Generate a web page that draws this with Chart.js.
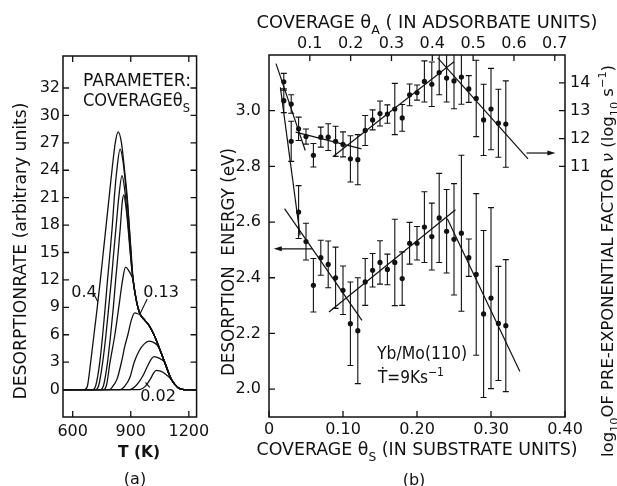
<!DOCTYPE html>
<html>
<head>
<meta charset="utf-8">
<script src="https://cdn.jsdelivr.net/npm/chart.js@4.4.1/dist/chart.umd.min.js"></script>
<style>
  html, body { margin: 0; padding: 0; background: #fff; }
  #wrap { position: relative; width: 617px; height: 486px; }
  #tds { position: absolute; left: 0; top: 0; }
  #energy { position: absolute; left: 215px; top: 0; }
</style>
</head>
<body>
<div id="wrap">
  <canvas id="tds" width="215" height="486"></canvas>
  <canvas id="energy" width="402" height="486"></canvas>
</div>
<script>
const INK = '#111';
const FONT = "'DejaVu Sans', sans-serif";
const TICK = 6;

// --- (a) desorption spectra: [T (K), rate] ---
// all spectra run into the same high temperature tail
const tdsTail = [[912,12],[925,10.2],[938,8.9],[952,8.1],[972,7.6],[995,7.0],[1020,6.0],[1050,4.4],[1075,3.0],[1110,1.1],[1145,0.2],[1175,0],[1240,0]];
const tds040 = [[550,0],[660,0],[675,0.3],[693,3],[710,6],[727,9],[743,12],[758,15],[773,18],[788,21],[803,24],[820,27],[835,28.2],[852,27],[868,24],[882,21],[892,18],[902,15]];
const tds035 = [[550,0],[705,0],[720,0.5],[740,3],[755,6],[768,9],[780,12],[793,15],[805,18],[815,21],[828,24],[845,26.3],[860,25],[873,22.5],[886,19.5],[896,16.5],[904,14]];
const tds030 = [[550,0],[720,0],[735,0.5],[755,3],[772,6],[786,9],[800,12],[812,15],[825,18],[838,21],[855,23.4],[868,22],[880,19.5],[891,17],[901,14.3]];
const tds025 = [[550,0],[745,0],[760,0.5],[780,3],[796,6],[810,9],[822,12],[835,15],[847,18],[856,20.5],[864,21.3],[874,20.2],[885,18],[895,15.5],[904,13.5]];
const tds018 = [[550,0],[760,0],[775,0.5],[793,3],[818,6],[838,9],[858,12],[873,13.4],[890,13],[903,12.5]];
const tds013 = [[550,0],[790,0],[805,0.3],[830,1.2],[852,3],[870,4.8],[885,6],[903,7.6],[920,8.4],[936,8.3],[952,8.1]];
const tds008 = [[550,0],[845,0],[870,0.4],[895,1.3],[918,3],[945,4.3],[970,5.0],[993,5.3],[1015,5.2],[1035,4.9],[1050,4.4]];
const tds004 = [[550,0],[895,0],[930,0.5],[960,1.4],[985,2.5],[1005,3.3],[1020,3.6],[1040,3.5],[1058,3.3],[1075,3.0]];
const tds002 = [[550,0],[945,0],[975,0.35],[1000,1.1],[1018,1.8],[1032,2.1],[1050,2.05],[1070,1.85],[1090,1.5],[1110,1.1]];
const tdsHeads = [tds040, tds035, tds030, tds025, tds018, tds013, tds008, tds004, tds002];

const tempTicks = [600, 900, 1200];
const rateTicks = [0, 3, 6, 9, 12, 15, 18, 21, 24, 27, 30, 33];
const rateLabels = ['0', '3', '6', '9', '12', '15', '18', '21', '24', '27', '30', '32'];

// --- (b) desorption energy and log10 of prefactor vs coverage ---
const thetaS = [0.02,0.03,0.04,0.05,0.06,0.07,0.08,0.09,0.10,0.11,0.12,0.13,0.14,0.15,0.16,0.17,0.18,0.19,0.20,0.21,0.22,0.23,0.24,0.25,0.26,0.27,0.28,0.29,0.30,0.31,0.32];
const energy    = [3.036,2.89,2.636,2.53,2.373,2.472,2.448,2.40,2.355,2.235,2.21,2.385,2.427,2.455,2.43,2.455,2.397,2.524,2.524,2.582,2.548,2.615,2.567,2.538,2.56,2.472,2.412,2.27,2.327,2.236,2.228];
const energyErr = [0.043,0.072,0.095,0.066,0.096,0.063,0.084,0.11,0.087,0.15,0.19,0.084,0.06,0.078,0.055,0.155,0.096,0.075,0.06,0.127,0.12,0.16,0.15,0.2,0.28,0.067,0.29,0.30,0.325,0.205,0.237];
const logNu     = [14.04,13.24,12.35,12.07,11.40,12.05,12.05,11.90,11.79,11.27,11.24,12.29,12.67,12.90,12.88,13.06,12.74,13.57,13.65,14.05,13.95,14.37,14.17,14.07,14.21,13.78,13.44,12.67,13.06,12.55,12.52];
const logNuErr  = [0.30,0.33,0.42,0.27,0.42,0.36,0.48,0.54,0.45,0.83,0.90,0.54,0.36,0.45,0.33,0.92,0.48,0.39,0.27,0.74,0.80,0.80,0.86,1.00,0.98,0.48,1.37,1.28,1.46,1.22,1.55];

// straight-line fits, [theta, value] end points
const fitEnergy = [
  [[0.0154, 3.084], [0.042, 2.552]],
  [[0.021, 2.648], [0.1256, 2.247]],
  [[0.081, 2.277], [0.252, 2.644]],
  [[0.241, 2.612], [0.339, 2.063]]
];
const fitLogNu = [
  [[0.0095, 14.69], [0.049, 11.57]],
  [[0.036, 12.23], [0.125, 11.63]],
  [[0.0875, 11.37], [0.25, 14.76]],
  [[0.228, 14.9], [0.35, 11.27]]
];
const arrowEnergy = [[0.0585, 2.504], [0.0064, 2.504]];
const arrowLogNu = [[0.348, 11.48], [0.387, 11.48]];

const thetaSTicks = [0, 0.1, 0.2, 0.3, 0.4];
const thetaSLabels = ['0', '0.10', '0.20', '0.30', '0.40'];
const thetaATicks = [0.1, 0.2, 0.3, 0.4, 0.5, 0.6, 0.7];
const thetaALabels = ['0.1', '0.2', '0.3', '0.4', '0.5', '0.6', '0.7'];
const energyTicks = [2.0, 2.2, 2.4, 2.6, 2.8, 3.0];
const energyLabels = ['2.0', '2.2', '2.4', '2.6', '2.8', '3.0'];
const logNuTicks = [11, 12, 13, 14];
const logNuLabels = ['11', '12', '13', '14'];

// --- helpers ---
// parts: [text, kind]; kind 'n' normal, 'sub', 'sup', 'i' italic
function drawText(ctx, parts, x, y, o = {}) {
  const size = o.size || 16;
  const font = k => {
    const small = k === 'sub' || k === 'sup';
    return (k === 'i' ? 'italic ' : '') + (o.bold ? 'bold ' : '') +
      Math.round(small ? size * 0.68 : size) + 'px ' + FONT;
  };
  ctx.save();
  ctx.translate(x, y);
  if (o.rotate) ctx.rotate(o.rotate);
  let w = 0;
  parts.forEach(([t, k]) => { ctx.font = font(k); w += ctx.measureText(t).width; });
  if (o.width) ctx.scale(o.width / w, 1);
  let cx = o.align === 'left' ? 0 : -w / 2;
  ctx.fillStyle = INK;
  ctx.textAlign = 'left';
  ctx.textBaseline = 'alphabetic';
  parts.forEach(([t, k]) => {
    ctx.font = font(k);
    const dy = k === 'sub' ? size * 0.32 : k === 'sup' ? -size * 0.42 : 0;
    ctx.fillText(t, cx, size * 0.36 + dy);
    cx += ctx.measureText(t).width;
  });
  ctx.restore();
}

function drawFrame(chart, sides) {
  const { ctx, chartArea: a } = chart;
  ctx.save();
  ctx.strokeStyle = INK;
  ctx.lineWidth = 1.5;
  ctx.strokeRect(a.left, a.top, a.right - a.left, a.bottom - a.top);
  ctx.lineWidth = 1.3;
  ctx.beginPath();
  sides.forEach(({ scale, values, side }) => {
    const s = chart.scales[scale];
    values.forEach(v => {
      const p = s.getPixelForValue(v);
      if (side === 'bottom') { ctx.moveTo(p, a.bottom); ctx.lineTo(p, a.bottom - TICK); }
      if (side === 'top') { ctx.moveTo(p, a.top); ctx.lineTo(p, a.top + TICK); }
      if (side === 'left') { ctx.moveTo(a.left, p); ctx.lineTo(a.left + TICK, p); }
      if (side === 'right') { ctx.moveTo(a.right, p); ctx.lineTo(a.right - TICK, p); }
    });
  });
  ctx.stroke();
  ctx.restore();
}

function fixedTicks(values) {
  return scale => { scale.ticks = values.map(v => ({ value: v })); };
}

function tickFont() {
  return { family: FONT, size: 16, lineHeight: 1.2 };
}

function axis(min, max, position, values, labels, pad, fit) {
  return {
    type: 'linear', position, min, max,
    grid: { display: false, drawTicks: false },
    border: { display: false },
    afterBuildTicks: fixedTicks(values),
    afterFit: fit,
    ticks: {
      color: INK, font: tickFont(), padding: pad, autoSkip: false, maxRotation: 0,
      callback: (v, i) => labels[i]
    }
  };
}

// --- chart (a) ---
const tdsDecor = {
  id: 'tdsDecor',
  afterDraw(chart) {
    const { ctx } = chart;
    const x = chart.scales.x, y = chart.scales.y;
    drawFrame(chart, [
      { scale: 'x', values: tempTicks, side: 'bottom' },
      { scale: 'x', values: tempTicks, side: 'top' },
      { scale: 'y', values: rateTicks, side: 'left' },
      { scale: 'y', values: rateTicks, side: 'right' }
    ]);
    // leader lines from the coverage labels to their spectra
    ctx.save();
    ctx.strokeStyle = INK;
    ctx.lineWidth = 1.1;
    [[[708, 10.5], [730, 9.6]], [[985, 9.9], [948, 8.3]], [[976, 0.8], [998, 0.25]]].forEach(([p, q]) => {
      ctx.beginPath();
      ctx.moveTo(x.getPixelForValue(p[0]), y.getPixelForValue(p[1]));
      ctx.lineTo(x.getPixelForValue(q[0]), y.getPixelForValue(q[1]));
      ctx.stroke();
    });
    ctx.restore();

    drawText(ctx, [['PARAMETER:', 'n']], 83, 80, { size: 17, width: 108, align: 'left' });
    drawText(ctx, [['COVERAGEθ', 'n'], ['S', 'sub']], 83, 100, { size: 17, width: 107, align: 'left' });
    drawText(ctx, [['0.4', 'n']], 84, 291, { size: 16 });
    drawText(ctx, [['0.13', 'n']], 161, 291, { size: 16 });
    drawText(ctx, [['0.02', 'n']], 158, 395, { size: 16 });
    drawText(ctx, [['DESORPTIONRATE (arbitrary units)', 'n']], 20, 251, { size: 17, width: 297, rotate: -Math.PI / 2 });
    drawText(ctx, [['T (K)', 'n']], 139, 451, { size: 16, bold: true, width: 42 });
    drawText(ctx, [['(a)', 'n']], 135, 478, { size: 16 });
  }
};

new Chart(document.getElementById('tds'), {
  type: 'line',
  data: {
    datasets: tdsHeads.map(head => {
      const last = head[head.length - 1][0];
      const pts = head.concat(tdsTail.filter(p => p[0] > last));
      return {
        data: pts.map(([t, r]) => ({ x: t, y: r })),
        borderColor: INK,
        borderWidth: 1.3,
        pointRadius: 0,
        fill: false,
        cubicInterpolationMode: 'monotone'
      };
    })
  },
  options: {
    responsive: false,
    animation: false,
    layout: { padding: { top: 56, right: 14, left: 0, bottom: 0 } },
    plugins: { legend: { display: false }, tooltip: { enabled: false } },
    scales: {
      x: axis(550, 1240, 'bottom', tempTicks, tempTicks.map(String), 5, s => { s.height = 69; }),
      y: axis(-3, 36.5, 'left', rateTicks, rateLabels, 3, s => { s.width = 63; })
    }
  },
  plugins: [tdsDecor]
});

// --- chart (b) ---
function drawArrow(ctx, x0, y0, x1, y1) {
  const dir = Math.sign(x1 - x0);
  ctx.beginPath();
  ctx.moveTo(x0, y0);
  ctx.lineTo(x1 - dir * 6, y1);
  ctx.stroke();
  ctx.beginPath();
  ctx.moveTo(x1, y1);
  ctx.lineTo(x1 - dir * 8, y1 - 2.5);
  ctx.lineTo(x1 - dir * 8, y1 + 2.5);
  ctx.closePath();
  ctx.fill();
}

const energyDecor = {
  id: 'energyDecor',
  beforeDatasetsDraw(chart) {
    const { ctx, chartArea: a, scales } = chart;
    ctx.save();
    ctx.beginPath();
    ctx.rect(a.left, a.top, a.right - a.left, a.bottom - a.top);
    ctx.clip();
    ctx.strokeStyle = INK;
    ctx.lineWidth = 1.1;
    const bars = (vals, errs, ys) => {
      thetaS.forEach((t, i) => {
        const px = scales.x.getPixelForValue(t);
        const lo = ys.getPixelForValue(vals[i] - errs[i]);
        const hi = ys.getPixelForValue(vals[i] + errs[i]);
        ctx.beginPath();
        ctx.moveTo(px, lo); ctx.lineTo(px, hi);
        ctx.moveTo(px - 3, lo); ctx.lineTo(px + 3, lo);
        ctx.moveTo(px - 3, hi); ctx.lineTo(px + 3, hi);
        ctx.stroke();
      });
    };
    bars(energy, energyErr, scales.y);
    bars(logNu, logNuErr, scales.y1);
    ctx.restore();
  },
  afterDraw(chart) {
    const { ctx, scales } = chart;
    drawFrame(chart, [
      { scale: 'x', values: thetaSTicks, side: 'bottom' },
      { scale: 'x2', values: thetaATicks, side: 'top' },
      { scale: 'y', values: energyTicks, side: 'left' },
      { scale: 'y1', values: logNuTicks, side: 'right' }
    ]);
    ctx.save();
    ctx.strokeStyle = INK;
    ctx.fillStyle = INK;
    ctx.lineWidth = 1.2;
    const arrow = (pts, ys) => drawArrow(ctx,
      scales.x.getPixelForValue(pts[0][0]), ys.getPixelForValue(pts[0][1]),
      scales.x.getPixelForValue(pts[1][0]), ys.getPixelForValue(pts[1][1]));
    arrow(arrowEnergy, scales.y);
    arrow(arrowLogNu, scales.y1);
    ctx.restore();

    drawText(ctx, [['COVERAGE θ', 'n'], ['A', 'sub'], [' ( IN ADSORBATE UNITS)', 'n']], 212, 22, { size: 17, width: 341 });
    drawText(ctx, [['COVERAGE θ', 'n'], ['S', 'sub'], [' (IN SUBSTRATE UNITS)', 'n']], 202, 449, { size: 17, width: 321 });
    drawText(ctx, [['(b)', 'n']], 199, 479, { size: 16 });
    drawText(ctx, [['DESORPTION  ENERGY (eV)', 'n']], 13, 262, { size: 17, width: 228, rotate: -Math.PI / 2 });
    drawText(ctx, [['log', 'n'], ['10', 'sub'], ['OF PRE-EXPONENTIAL FACTOR ', 'n'], ['ν', 'i'],
      [' (log', 'n'], ['10', 'sub'], [' s', 'n'], ['−1', 'sup'], [')', 'n']],
      392, 261, { size: 16, width: 392, rotate: -Math.PI / 2 });
    drawText(ctx, [['Yb/Mo(110)', 'n']], 162, 353, { size: 17, width: 90, align: 'left' });
    drawText(ctx, [['Ṫ=9Ks', 'n'], ['−1', 'sup']], 163, 377, { size: 17, width: 66, align: 'left' });
  }
};

const pointSet = (vals, axisId) => ({
  type: 'scatter',
  data: thetaS.map((t, i) => ({ x: t, y: vals[i] })),
  yAxisID: axisId,
  pointRadius: 2.6,
  pointBackgroundColor: INK,
  pointBorderColor: INK,
  pointBorderWidth: 0,
  showLine: false
});
const fitSet = (seg, axisId) => ({
  type: 'line',
  data: seg.map(([t, v]) => ({ x: t, y: v })),
  yAxisID: axisId,
  borderColor: INK,
  borderWidth: 1.2,
  pointRadius: 0,
  fill: false
});

new Chart(document.getElementById('energy'), {
  type: 'scatter',
  data: {
    datasets: [
      pointSet(energy, 'y'),
      pointSet(logNu, 'y1'),
      ...fitEnergy.map(seg => fitSet(seg, 'y')),
      ...fitLogNu.map(seg => fitSet(seg, 'y1'))
    ]
  },
  options: {
    responsive: false,
    animation: false,
    layout: { padding: 0 },
    plugins: { legend: { display: false }, tooltip: { enabled: false } },
    scales: {
      x: axis(0, 0.4, 'bottom', thetaSTicks, thetaSLabels, 3, s => { s.height = 69; }),
      x2: axis(0, 0.725, 'top', thetaATicks, thetaALabels, 1.5, s => { s.height = 55; }),
      y: axis(1.9, 3.2, 'left', energyTicks, energyLabels, 8, s => { s.width = 54; }),
      y1: axis(2, 15, 'right', logNuTicks, logNuLabels, 5, s => { s.width = 52; })
    }
  },
  plugins: [energyDecor]
});
</script>
</body>
</html>
